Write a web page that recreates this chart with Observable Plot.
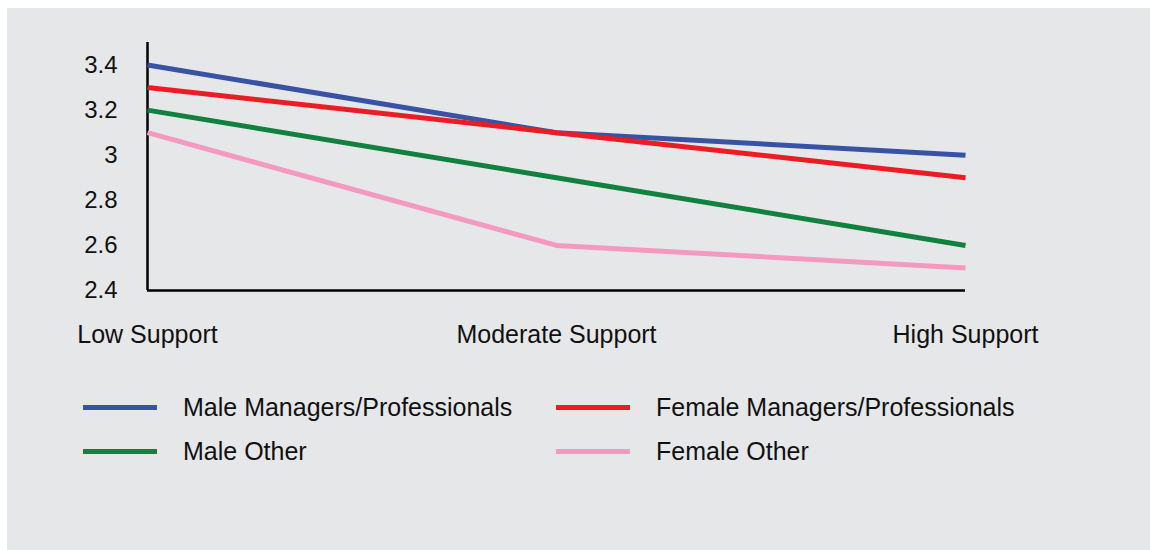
<!DOCTYPE html>
<html>
<head>
<meta charset="utf-8">
<script src="https://cdn.jsdelivr.net/npm/d3@7"></script>
<script src="https://cdn.jsdelivr.net/npm/@observablehq/plot@0.6"></script>
<style>
  html, body { margin: 0; padding: 0; background: #ffffff; }
  body { width: 1151px; height: 550px; position: relative; overflow: hidden;
         font-family: "Liberation Sans", Arial, sans-serif; }
  #panel { position: absolute; left: 7px; top: 8px; width: 1143px; height: 542px; background: #e6e7e8; }
  #chart { position: absolute; left: 0; top: 0; }
  #legend { position: absolute; left: 0; top: 0; width: 1151px; height: 550px; pointer-events: none; }
  .item { position: absolute; display: flex; align-items: center; font-size: 25px; color: #111; }
  .swatch { width: 74px; height: 5px; margin-right: 26px; }
</style>
</head>
<body>
<div id="panel"></div>
<div id="chart"></div>
<div id="legend"></div>
<script>
const categories = ["Low Support", "Moderate Support", "High Support"];
const seriesNames = ["Male Managers/Professionals", "Female Managers/Professionals", "Male Other", "Female Other"];
const maleManagers = [3.4, 3.1, 3.0];
const femaleManagers = [3.3, 3.1, 2.9];
const maleOther = [3.2, 2.9, 2.6];
const femaleOther = [3.1, 2.6, 2.5];
const yTicks = [2.4, 2.6, 2.8, 3.0, 3.2, 3.4];
const yDomain = [2.4, 3.5];
const colors = ["#3953a4", "#ed1c24", "#11813f", "#f49ac1"];

const seriesValues = [maleManagers, femaleManagers, maleOther, femaleOther];
const data = [];
seriesNames.forEach((s, i) => categories.forEach((c, j) => data.push({series: s, category: c, value: seriesValues[i][j]})));

const chart = Plot.plot({
  width: 1151,
  height: 360,
  marginLeft: 147,
  marginRight: 186,
  marginTop: 42,
  marginBottom: 70,
  style: {background: "transparent", fontFamily: "'Liberation Sans', Arial, sans-serif", color: "#111"},
  x: {type: "point", domain: categories, padding: 0},
  y: {domain: yDomain},
  color: {domain: seriesNames, range: colors},
  marks: [
    Plot.axisY({ticks: yTicks, tickSize: 0, tickPadding: 30, label: null, fontSize: 24,
                tickFormat: d => d3.format("~g")(d)}),
    Plot.axisX({tickSize: 0, tickPadding: 35, label: null, fontSize: 25}),
    Plot.ruleX([categories[0]], {y1: yDomain[0], y2: yDomain[1], stroke: "#000", strokeWidth: 2.5}),
    Plot.ruleY([yDomain[0]], {stroke: "#000", strokeWidth: 2.5}),
    Plot.line(data, {x: "category", y: "value", z: "series", stroke: "series", strokeWidth: 5, strokeLinejoin: "miter", strokeLinecap: "butt"})
  ]
});
document.getElementById("chart").appendChild(chart);

const legend = document.getElementById("legend");
const legendPos = [[83, 407], [556, 407], [83, 451], [556, 451]];
seriesNames.forEach((s, i) => {
  const item = document.createElement("div");
  item.className = "item";
  item.style.left = legendPos[i][0] + "px";
  item.style.top = (legendPos[i][1] - 15) + "px";
  item.style.height = "30px";
  const sw = document.createElement("div");
  sw.className = "swatch";
  sw.style.background = colors[i];
  const t = document.createElement("span");
  t.textContent = s;
  item.appendChild(sw);
  item.appendChild(t);
  legend.appendChild(item);
});
</script>
</body>
</html>
